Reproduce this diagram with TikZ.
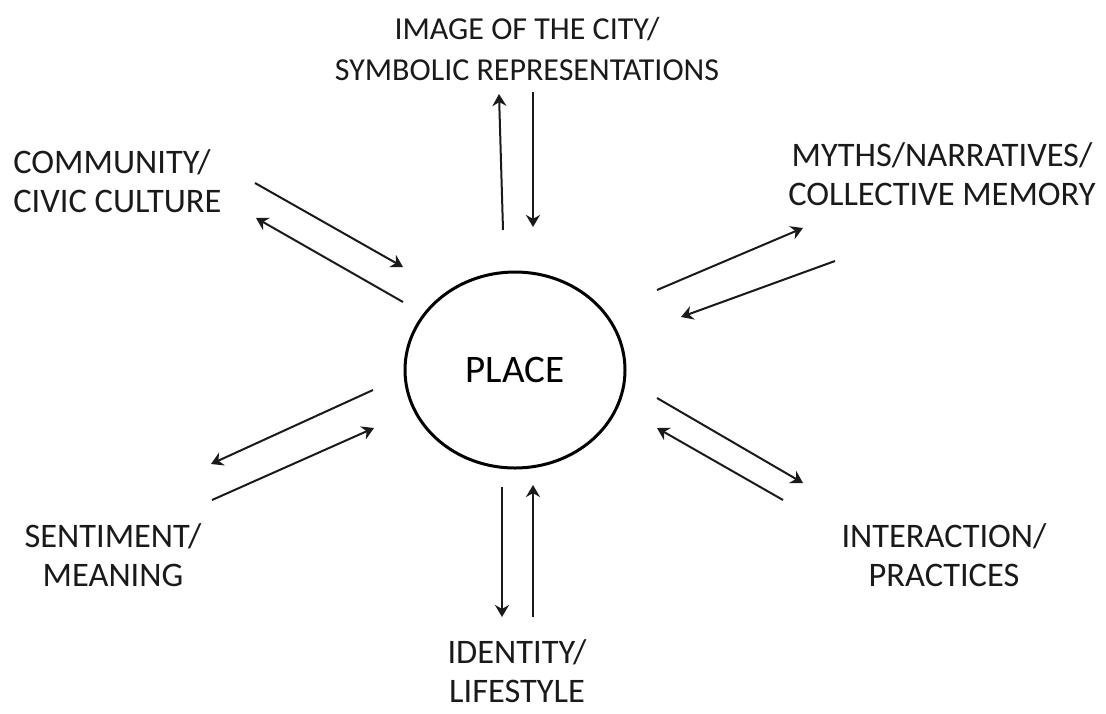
\documentclass[tikz,border=0pt]{standalone}
\usepackage{fontspec}
\setmainfont{Carlito}
\usepackage{tikz}
\usetikzlibrary{arrows.meta,shapes.geometric}
\usepackage{xcolor}
\definecolor{cink}{HTML}{1A1A1A}

\begin{document}
\begin{tikzpicture}[
  x=0.5pt, y=-0.5pt,
  lbl/.style={align=center, inner sep=0pt, text=cink,
              font=\fontsize{17.2}{19.5}\selectfont},
  hub/.style={draw=black, line width=1.5pt, ellipse, inner sep=0pt,
              minimum width=110pt, minimum height=98pt,
              font=\fontsize{19.5}{24}\selectfont},
  arr/.style={-{Stealth[length=6pt, width=7pt]}, line width=1pt, color=cink}
]
  \useasboundingbox (0,0) rectangle (1106,713);

  \node[hub] (place) at (515,370) {PLACE};

  \node[lbl, font=\fontsize{16}{20.5}\selectfont] (image) at (527,49)
    {IMAGE OF THE CITY/\\SYMBOLIC REPRESENTATIONS};
  \node[lbl, align=left, anchor=west] (community) at (13,181) {COMMUNITY/\\CIVIC CULTURE};
  \node[lbl] (myths) at (942,174) {MYTHS/NARRATIVES/\\COLLECTIVE MEMORY};
  \node[lbl] (sentiment) at (113,555) {SENTIMENT/\\MEANING};
  \node[lbl] (interaction) at (944,555) {INTERACTION/\\PRACTICES};
  \node[lbl] (identity) at (517,671) {IDENTITY/\\LIFESTYLE};

  % arrow ends
  \coordinate (im1) at (503,230);  \coordinate (im2) at (499,94);
  \coordinate (im3) at (533,92);   \coordinate (im4) at (533,227);
  \coordinate (co1) at (255,183);  \coordinate (co2) at (403,267);
  \coordinate (co3) at (403,302);  \coordinate (co4) at (256,218);
  \coordinate (my1) at (657,290);  \coordinate (my2) at (803,228);
  \coordinate (my3) at (835,261);  \coordinate (my4) at (681,317);
  \coordinate (se1) at (373,390);  \coordinate (se2) at (211,464);
  \coordinate (se3) at (212,500);  \coordinate (se4) at (374,428);
  \coordinate (in1) at (657,398);  \coordinate (in2) at (803,483);
  \coordinate (in3) at (783,500);  \coordinate (in4) at (657,428);
  \coordinate (id1) at (502,487);  \coordinate (id2) at (502,617);
  \coordinate (id3) at (533,617);  \coordinate (id4) at (533,485);

  \draw[arr] (im1) -- (im2);
  \draw[arr] (im3) -- (im4);
  \draw[arr] (co1) -- (co2);
  \draw[arr] (co3) -- (co4);
  \draw[arr] (my1) -- (my2);
  \draw[arr] (my3) -- (my4);
  \draw[arr] (se1) -- (se2);
  \draw[arr] (se3) -- (se4);
  \draw[arr] (in1) -- (in2);
  \draw[arr] (in3) -- (in4);
  \draw[arr] (id1) -- (id2);
  \draw[arr] (id3) -- (id4);
\end{tikzpicture}
\end{document}
